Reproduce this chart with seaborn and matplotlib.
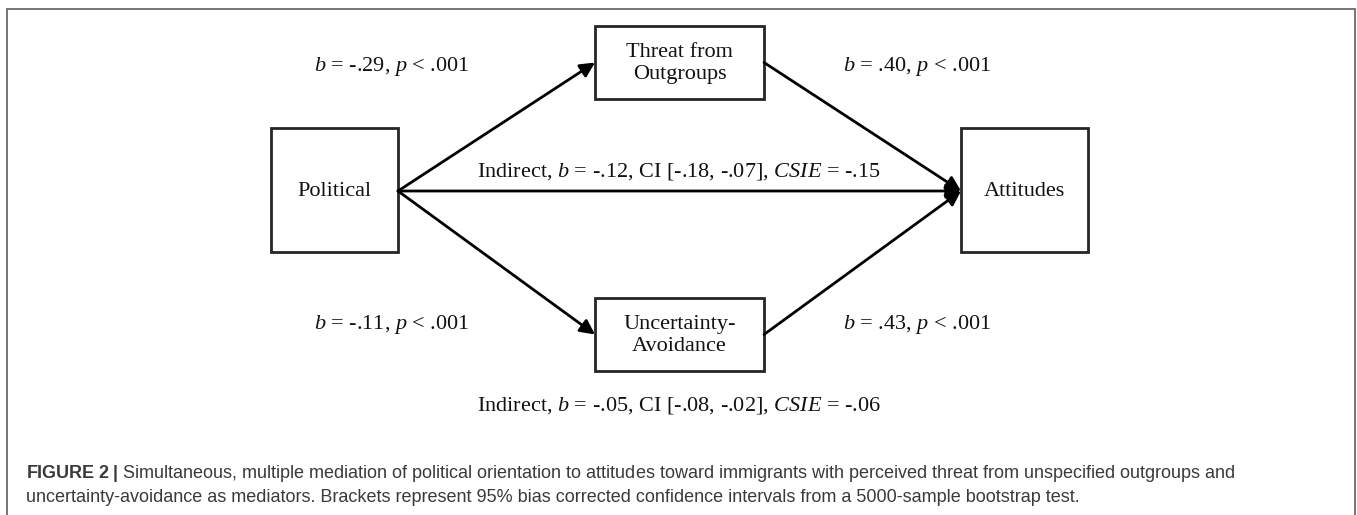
import matplotlib
matplotlib.use("Agg")
import matplotlib.pyplot as plt
import seaborn as sns
from matplotlib.patches import Rectangle

sns.set_theme(style="white")
plt.rcParams['font.family'] = ['Liberation Serif', 'DejaVu Serif']
plt.rcParams['mathtext.fontset'] = 'custom'
plt.rcParams['mathtext.rm'] = 'Liberation Serif'
plt.rcParams['mathtext.it'] = 'Liberation Serif:italic'
plt.rcParams['mathtext.bf'] = 'Liberation Sans:bold'

# ---- content ----
nodes = ["Political", "Threat from\nOutgroups", "Uncertainty-\nAvoidance", "Attitudes"]
path_a1 = r"$b$ = -.29, $p$ < .001"
path_b1 = r"$b$ = .40, $p$ < .001"
path_a2 = r"$b$ = -.11, $p$ < .001"
path_b2 = r"$b$ = .43, $p$ < .001"
indirect1 = r"Indirect, $b$ = -.12, CI [-.18, -.07], $CSIE$ = -.15"
indirect2 = r"Indirect, $b$ = -.05, CI [-.08, -.02], $CSIE$ = -.06"
caption1 = (r"$\mathbf{FIGURE\ 2\ |}$ Simultaneous, multiple mediation of political orientation "
            r"to attitudes toward immigrants with perceived threat from unspecified outgroups and")
caption2 = ("uncertainty-avoidance as mediators. Brackets represent 95% bias corrected "
            "confidence intervals from a 5000-sample bootstrap test.")

W, H = 1357, 515
fig = plt.figure(figsize=(W / 100, H / 100), dpi=100)
ax = fig.add_axes([0, 0, 1, 1])
ax.set_xlim(0, W)
ax.set_ylim(H, 0)
ax.axis("off")

# outer frame (open at bottom)
ax.plot([7, 7, 1355, 1355], [H + 5, 9, 9, H + 5], color="#6a6a6a", lw=1.3,
        solid_joinstyle="miter", clip_on=False)

# boxes: (x0, y0, x1, y1)
boxes = {
    "pol": (271, 128, 398, 252),
    "thr": (595, 26, 764, 99),
    "unc": (595, 298, 764, 371),
    "att": (961, 128, 1088, 252),
}
keys = ["pol", "thr", "unc", "att"]
fs = 16
for k, label in zip(keys, nodes):
    x0, y0, x1, y1 = boxes[k]
    ax.add_patch(Rectangle((x0, y0), x1 - x0, y1 - y0, fill=False,
                           edgecolor="#262626", lw=2.0, joinstyle="miter"))
    ax.text((x0 + x1) / 2, (y0 + y1) / 2 + 1, label, ha="center", va="center",
            fontsize=fs, color="#111111", linespacing=1.25)

def mid_left(k):
    x0, y0, x1, y1 = boxes[k]
    return (x0, (y0 + y1) / 2)

def mid_right(k):
    x0, y0, x1, y1 = boxes[k]
    return (x1, (y0 + y1) / 2)

p_out = (398, 191)
a_in = (961, 191)
arrows = [
    (p_out, mid_left("thr")),
    (mid_right("thr"), a_in),
    (p_out, a_in),
    (p_out, mid_left("unc")),
    (mid_right("unc"), a_in),
]
for s, e in arrows:
    ax.annotate("", xy=e, xytext=s,
                arrowprops=dict(arrowstyle="-|>", color="black", lw=2.0,
                                mutation_scale=22, shrinkA=0, shrinkB=0))

ax.text(392, 66, path_a1, ha="center", va="center", fontsize=fs, color="#111111")
ax.text(917, 66, path_b1, ha="center", va="center", fontsize=fs, color="#111111")
ax.text(392, 325, path_a2, ha="center", va="center", fontsize=fs, color="#111111")
ax.text(917, 325, path_b2, ha="center", va="center", fontsize=fs, color="#111111")
ax.text(679, 172, indirect1, ha="center", va="center", fontsize=fs, color="#111111")
ax.text(679, 406, indirect2, ha="center", va="center", fontsize=fs, color="#111111")

cap_kw = dict(ha="left", va="center", fontsize=13, color="#3a3a3a",
              family=["Liberation Sans", "DejaVu Sans"])
ax.text(26, 473, caption1, **cap_kw)
ax.text(26, 497, caption2, **cap_kw)

fig.savefig("out.png", dpi=100, facecolor="white")
